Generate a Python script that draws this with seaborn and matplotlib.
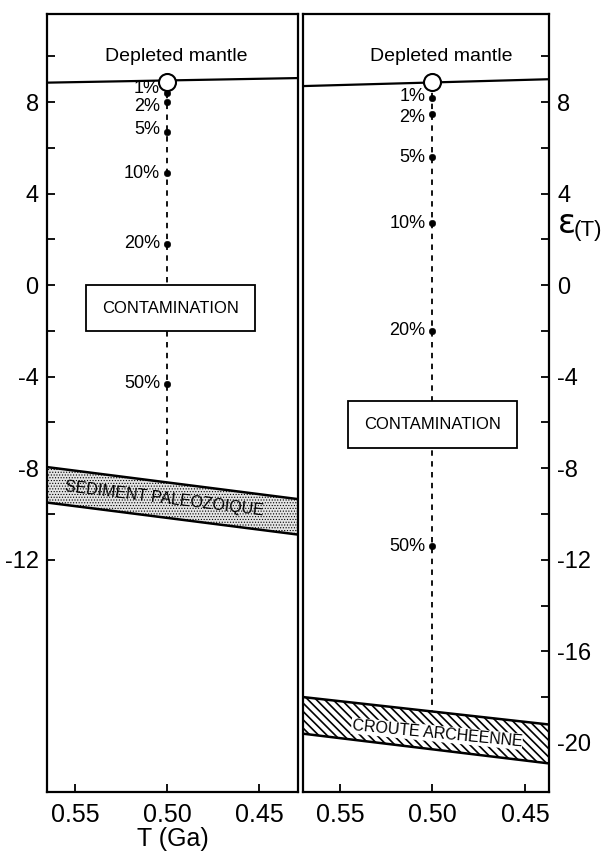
import numpy as np
import pandas as pd
import matplotlib
matplotlib.use('Agg')
import matplotlib.pyplot as plt
from matplotlib import font_manager
import seaborn as sns

# mixing percentages along the contamination line (T = 0.50 Ga)
pct_labels = ['1%', '2%', '5%', '10%', '20%', '50%']
t_sample = 0.50
eps_left = [8.4, 8.0, 6.7, 4.9, 1.8, -4.3]
eps_right = [8.2, 7.5, 5.6, 2.7, -2.0, -11.4]
eps_dm_point = 8.9
dash_end_left = -8.6
dash_end_right = -18.6

# depleted mantle evolution line
dm_t_left = [0.5652, 0.4288]
dm_eps_left = [8.85, 9.05]
dm_t_right = [0.570, 0.437]
dm_eps_right = [8.7, 9.0]

# contaminant bands (upper / lower bound)
sed_t = [0.5652, 0.4288]
sed_top = [-7.95, -9.35]
sed_bot = [-9.5, -10.9]
crt_t = [0.570, 0.437]
crt_top = [-18.0, -19.2]
crt_bot = [-19.6, -20.9]

x_ticks = [0.55, 0.50, 0.45]
x_ticklabels = ['0.55', '0.50', '0.45']
y_labels_left = [8, 4, 0, -4, -8, -12]
y_labels_right = [8, 4, 0, -4, -8, -12, -16, -20]

sns.set_style('ticks')
names = {f.name for f in font_manager.fontManager.ttflist}
main_font = 'Liberation Sans Narrow' if 'Liberation Sans Narrow' in names else 'Liberation Sans'
plt.rcParams['font.family'] = [main_font, 'DejaVu Sans']
for k in ('text.color', 'axes.edgecolor', 'xtick.color', 'ytick.color',
          'axes.labelcolor', 'hatch.color'):
    plt.rcParams[k] = 'black'

fig = plt.figure(figsize=(6.06, 8.64), dpi=100)
ax1 = fig.add_axes([0.0776, 0.0833, 0.4142, 0.9005])
ax2 = fig.add_axes([0.5, 0.0833, 0.406, 0.9005])


def draw_panel(ax, eps, dm_t, dm_eps, dash_end, band_t, band_top, band_bot,
               hatch, hatch_lw, face, lab_offsets):
    # depleted mantle line
    sns.lineplot(x=dm_t, y=dm_eps, ax=ax, color='black', lw=1.6, zorder=3,
                 estimator=None, sort=False)
    # dashed contamination trend
    sns.lineplot(x=[t_sample, t_sample], y=[eps_dm_point, dash_end], ax=ax,
                 color='black', lw=1.3, linestyle=(0, (3, 3)), zorder=2,
                 estimator=None, sort=False)
    # band
    plt.rcParams['hatch.linewidth'] = hatch_lw
    ax.fill_between(band_t, band_top, band_bot, facecolor=face,
                    edgecolor='black', hatch=hatch, lw=0, zorder=2)
    sns.lineplot(x=band_t, y=band_top, ax=ax, color='black', lw=1.8, zorder=3,
                 estimator=None, sort=False)
    sns.lineplot(x=band_t, y=band_bot, ax=ax, color='black', lw=1.8, zorder=3,
                 estimator=None, sort=False)
    # mixing points
    df = pd.DataFrame({'t': [t_sample] * len(eps), 'eps': eps, 'lab': pct_labels})
    sns.scatterplot(data=df, x='t', y='eps', ax=ax, color='black', s=22,
                    edgecolor='black', zorder=4)
    for (_, r), dy in zip(df.iterrows(), lab_offsets):
        ax.annotate(r['lab'], (r['t'], r['eps']), xytext=(-5, dy),
                    textcoords='offset points', ha='right', va='center',
                    fontsize=13)
    # depleted mantle point
    sns.scatterplot(x=[t_sample], y=[eps_dm_point], ax=ax, s=150,
                    facecolor='white', edgecolor='black', linewidth=1.5,
                    zorder=5)
    ax.text(0.495, 10.0, 'Depleted mantle', ha='center', va='center', fontsize=14)

    ax.set_xlim(band_t[0], band_t[1])
    ax.set_ylim(-22.15, 11.85)
    ax.set_xticks(x_ticks)
    ax.set_xticklabels(x_ticklabels, fontsize=18)
    ax.tick_params(axis='x', direction='in', length=6, width=1.3, pad=8)
    ax.set_xlabel('')
    ax.set_ylabel('')


draw_panel(ax1, eps_left, dm_t_left, dm_eps_left, dash_end_left,
           sed_t, sed_top, sed_bot, '......', 0.5, '#e4e4e4', [3, -3, 2, 0, 0, 0])
draw_panel(ax2, eps_right, dm_t_right, dm_eps_right, dash_end_right,
           crt_t, crt_top, crt_bot, '\\\\\\\\', 1.2, 'white', [1, -3, 0, 0, 0, 0])

# contamination boxes
box = dict(boxstyle='square,pad=0.95', facecolor='white', edgecolor='black', lw=1.3)
ax1.text(0.498, -1.0, 'CONTAMINATION', ha='center', va='center', fontsize=12,
         bbox=box, zorder=6)
ax2.text(0.500, -6.1, 'CONTAMINATION', ha='center', va='center', fontsize=12,
         bbox=box, zorder=6)

# band labels
ax1.text(0.5016, -9.35, 'SEDIMENT PALEOZOIQUE', ha='center', va='center',
         fontsize=11.5, rotation=-7, zorder=6)
ax2.text(0.4976, -19.6, 'CROUTE ARCHEENNE', ha='center', va='center',
         fontsize=11.5, rotation=-5.5, zorder=6,
         bbox=dict(facecolor='white', edgecolor='none', pad=0.5))

# y axes
ticks_l = np.arange(-12, 11, 2)
ax1.set_yticks(ticks_l)
ax1.set_yticklabels([str(v) if v in y_labels_left else '' for v in ticks_l], fontsize=17)
ax1.tick_params(axis='y', direction='in', length=6, width=1.3, pad=6)

ticks_r = np.arange(-20, 11, 2)
ax2.yaxis.tick_right()
ax2.set_yticks(ticks_r)
ax2.set_yticklabels([str(v) if v in y_labels_right else '' for v in ticks_r], fontsize=17)
ax2.tick_params(axis='y', direction='in', length=6, width=1.3, pad=6,
                left=False, right=True)

ax2.text(1.035, 0.731, 'ε', transform=ax2.transAxes, fontsize=24,
         ha='left', va='center', family='DejaVu Sans')
ax2.text(1.10, 0.722, '(T)', transform=ax2.transAxes, fontsize=16,
         ha='left', va='center')

ax1.set_xlabel('T (Ga)', fontsize=18, labelpad=0)

for ax in (ax1, ax2):
    for s in ax.spines.values():
        s.set_visible(True)
        s.set_linewidth(1.6)

plt.savefig('out.png', dpi=100)
